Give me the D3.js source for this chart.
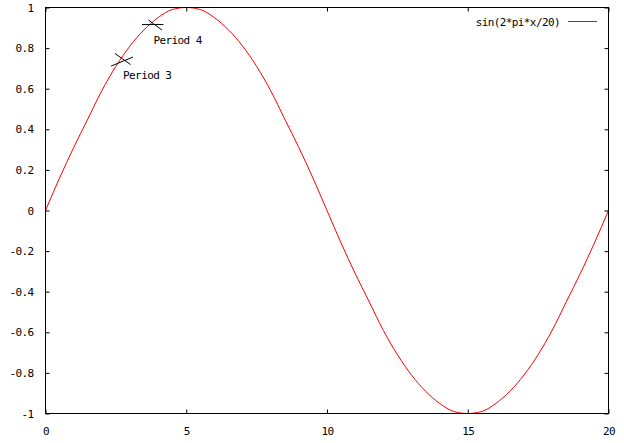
<!DOCTYPE html>
<html>
<head>
<meta charset="utf-8">
<script src="https://cdn.jsdelivr.net/npm/d3@7"></script>
<style>
  body { margin: 0; background: #fff; }
  svg text { font-family: "DejaVu Sans Mono", monospace; font-size: 11px; letter-spacing: -0.6px; fill: #000; }
</style>
</head>
<body>
<div id="chart"></div>
<script>
// curve values, every 0.5 on x
let xs = [0, 0.5, 1, 1.5, 2, 2.5, 3, 3.5, 4, 4.5, 5, 5.5, 6, 6.5, 7, 7.5, 8, 8.5, 9, 9.5, 10,
          10.5, 11, 11.5, 12, 12.5, 13, 13.5, 14, 14.5, 15, 15.5, 16, 16.5, 17, 17.5, 18, 18.5, 19, 19.5, 20];
let ys = [0, 0.16, 0.31, 0.45, 0.59, 0.71, 0.81, 0.89, 0.95, 0.99, 1, 0.99, 0.95, 0.89, 0.81, 0.71, 0.59, 0.45, 0.31, 0.16, 0,
          -0.16, -0.31, -0.45, -0.59, -0.71, -0.81, -0.89, -0.95, -0.99, -1, -0.99, -0.95, -0.89, -0.81, -0.71, -0.59, -0.45, -0.31, -0.16, 0];

let xTicks = [0, 5, 10, 15, 20];
let yTicks = [-1, -0.8, -0.6, -0.4, -0.2, 0, 0.2, 0.4, 0.6, 0.8, 1];

let markX = [2.72, 3.80];
let markY = [0.741, 0.916];
let markLabels = ["Period 3", "Period 4"];

let seriesName = "sin(2*pi*x/20)";

const width = 624;
const height = 443;
let plotLeft = 45.5, plotRight = 608.5, plotTop = 7.5, plotBottom = 413.5;

const x = d3.scaleLinear([0, 20], [plotLeft, plotRight]);
const y = d3.scaleLinear([-1, 1], [plotBottom, plotTop]);

let svg = d3.select("#chart").append("svg")
    .attr("width", width)
    .attr("height", height);

// the curve
let pts = xs.map((v, i) => ({x: v, y: ys[i]}));
let line = d3.line().x(d => x(d.x)).y(d => y(d.y)).curve(d3.curveMonotoneX);
svg.append("path")
    .attr("fill", "none")
    .attr("stroke", "#ff0000")
    .attr("stroke-width", 1)
    .attr("d", line(pts));

// axes, ticks pointing inward, mirrored on top and right
let tl = 4;
svg.append("g").attr("transform", `translate(0,${plotBottom})`)
    .call(d3.axisBottom(x).tickValues(xTicks).tickSize(-tl).tickPadding(tl + 10).tickFormat(d3.format("d")))
    .call(g => g.select(".domain").remove());
svg.append("g").attr("transform", `translate(0,${plotTop})`)
    .call(d3.axisTop(x).tickValues(xTicks).tickSize(-tl).tickFormat(""))
    .call(g => g.select(".domain").remove());
svg.append("g").attr("transform", `translate(${plotLeft},0)`)
    .call(d3.axisLeft(y).tickValues(yTicks).tickSize(-tl).tickPadding(tl + 8).tickFormat(d => String(+d.toFixed(1))))
    .call(g => g.select(".domain").remove());
svg.append("g").attr("transform", `translate(${plotRight},0)`)
    .call(d3.axisRight(y).tickValues(yTicks).tickSize(-tl).tickFormat(""))
    .call(g => g.select(".domain").remove());

svg.selectAll(".tick line").attr("stroke", "#000");
svg.selectAll(".tick text").attr("font-family", null).attr("font-size", null).attr("fill", "#000");

// border
svg.append("rect")
    .attr("x", plotLeft).attr("y", plotTop)
    .attr("width", plotRight - plotLeft).attr("height", plotBottom - plotTop)
    .attr("fill", "none").attr("stroke", "#000").attr("stroke-width", 1);

// point marks: two crossing strokes each (offsets in px)
let glyphs = [
    [[-7, -6.5, 8.5, 4.5], [-11, 6, 11, -3]],
    [[-10.5, 0, 11, 0], [-4, -4.5, 9.5, 5.5]]
];
markX.forEach((mx, i) => {
    let cx = x(mx), cy = y(markY[i]);
    glyphs[i].forEach(s => {
        svg.append("line")
            .attr("x1", cx + s[0]).attr("y1", cy + s[1])
            .attr("x2", cx + s[2]).attr("y2", cy + s[3])
            .attr("stroke", "#000").attr("stroke-width", 1);
    });
    svg.append("text")
        .attr("x", cx + 1)
        .attr("y", cy + 19)
        .text(markLabels[i]);
});

// key
svg.append("text")
    .attr("x", 560).attr("y", 25.5)
    .attr("text-anchor", "end")
    .text(seriesName);
svg.append("line")
    .attr("x1", 568).attr("x2", 597)
    .attr("y1", 21.5).attr("y2", 21.5)
    .attr("stroke", "#ff0000").attr("stroke-width", 1);
</script>
</body>
</html>
